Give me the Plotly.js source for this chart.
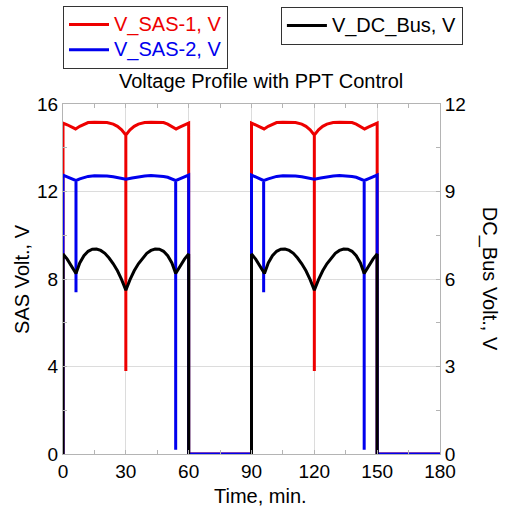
<!DOCTYPE html>
<html>
<head>
<meta charset="utf-8">
<script src="https://cdn.plot.ly/plotly-3.0.1.min.js"></script>
<style>html,body{margin:0;padding:0;background:#fff;}#chart{width:506px;height:518px;}</style>
</head>
<body>
<div id="chart"></div>
<script>
// Time axis (minutes) and series values
const t_sas1 = [0,0,2,4,6,8,10,12,15,18,21,24,26,28,30,30,30,32,34,36,39,42,45,48,50,52,54,56,58,60,60,
  90,90,92,94,96,98,100,102,105,108,111,114,116,118,120,120,120,122,124,126,129,132,135,138,140,142,144,146,148,150,150,180];
const v_sas1 = [0,15.13,15.05,14.95,14.86,14.98,15.08,15.15,15.17,15.17,15.15,15.08,14.98,14.82,14.58,3.8,14.58,14.82,14.98,15.08,15.15,15.17,15.17,15.15,15.08,14.98,14.86,14.95,15.05,15.13,0,
  0,15.13,15.05,14.95,14.86,14.98,15.08,15.15,15.17,15.17,15.15,15.08,14.98,14.82,14.58,3.8,14.58,14.82,14.98,15.08,15.15,15.17,15.17,15.15,15.08,14.98,14.86,14.95,15.05,15.13,0,0];

const t_sas2 = [0,0,2,4,6.2,6.2,6.2,8,10,12,15,18,21,24,27,30,33,36,39,42,45,48,50,52,53.8,53.8,53.8,56,58,60,60,
  90,90,92,94,95.8,95.8,95.8,98,100,102,105,108,111,114,117,120,123,126,129,132,135,138,140,142,143.8,143.8,143.8,146,148,150,150,180];
const v_sas2 = [0,12.75,12.67,12.59,12.5,7.4,12.5,12.58,12.65,12.69,12.72,12.73,12.71,12.67,12.62,12.56,12.62,12.67,12.71,12.73,12.72,12.69,12.65,12.58,12.5,0.2,12.5,12.59,12.67,12.75,0,
  0,12.75,12.67,12.59,12.5,7.4,12.5,12.58,12.65,12.69,12.72,12.73,12.71,12.67,12.62,12.56,12.62,12.67,12.71,12.73,12.72,12.69,12.65,12.58,12.5,0.2,12.5,12.59,12.67,12.75,0,0];

const t_bus = [0,0,2,4,6.2,8,10,12,14,16,18,20,22,24,26,28,30,32,34,36,38,40,42,44,46,48,50,52,53.8,56,58,60,60,null,
  90,90,92,94,96.2,98,100,102,104,106,108,110,112,114,116,118,120,122,124,126,128,130,132,134,136,138,140,142,143.8,146,148,150,150];
const v_bus = [0,6.86,6.68,6.46,6.19,6.55,6.8,6.95,7.02,7.03,6.98,6.88,6.72,6.52,6.28,5.98,5.62,5.98,6.28,6.52,6.72,6.88,6.98,7.03,7.02,6.95,6.8,6.55,6.19,6.46,6.68,6.86,0,null,
  0,6.86,6.68,6.46,6.19,6.55,6.8,6.95,7.02,7.03,6.98,6.88,6.72,6.52,6.28,5.98,5.62,5.98,6.28,6.52,6.72,6.88,6.98,7.03,7.02,6.95,6.8,6.55,6.19,6.46,6.68,6.86,0];

const x_ticks = [0,30,60,90,120,150,180];
const yl_ticks = [0,4,8,12,16];
const yr_ticks = [0,3,6,9,12];

const FONT = 'Liberation Sans, Arial, sans-serif';

const traces = [
  {x: t_sas1, y: v_sas1, type: 'scatter', mode: 'lines', name: '<span style="color:#ee0000;font-size:20px">V_SAS-1, V</span>',
   line: {color: '#ee0000', width: 3}, legend: 'legend', yaxis: 'y'},
  {x: t_sas2, y: v_sas2, type: 'scatter', mode: 'lines', name: '<span style="color:#0000ee;font-size:20px">V_SAS-2, V</span>',
   line: {color: '#0000ee', width: 3}, legend: 'legend', yaxis: 'y'},
  {x: t_bus, y: v_bus, type: 'scatter', mode: 'lines', name: '<span style="font-size:20px">V_DC_Bus, V</span>',
   line: {color: '#000000', width: 3}, legend: 'legend2', yaxis: 'y2', connectgaps: false}
];

const axisCommon = {
  showline: true, linecolor: '#b4b4b4', linewidth: 1,
  ticks: 'inside', ticklen: 4, tickcolor: '#b4b4b4',
  tickfont: {family: FONT, size: 19, color: '#000'},
  zeroline: false
};

const layout = {
  width: 506, height: 518,
  margin: {l: 63, r: 66, t: 104, b: 64, autoexpand: false},
  paper_bgcolor: '#fff', plot_bgcolor: '#fff',
  font: {family: FONT, color: '#000'},
  title: {text: 'Voltage Profile with PPT Control', font: {family: FONT, size: 20, color: '#000'},
          x: 0.516, xref: 'container', xanchor: 'center', y: 0.843, yref: 'container', yanchor: 'middle'},
  xaxis: Object.assign({}, axisCommon, {
    range: [0, 180], tickvals: x_ticks, mirror: 'ticks',
    showgrid: true, gridcolor: '#dcdcdc', gridwidth: 1,
    minor: {dtick: 15, ticks: 'inside', ticklen: 4, tickcolor: '#b4b4b4', showgrid: false}
  }),
  yaxis: Object.assign({}, axisCommon, {
    range: [0, 16], tickvals: yl_ticks,
    showgrid: true, gridcolor: '#dcdcdc', gridwidth: 1,
    minor: {dtick: 2, ticks: 'inside', ticklen: 4, tickcolor: '#b4b4b4', showgrid: false}
  }),
  yaxis2: Object.assign({}, axisCommon, {
    range: [0, 12], tickvals: yr_ticks, overlaying: 'y', side: 'right', showgrid: false,
    minor: {dtick: 1.5, ticks: 'inside', ticklen: 4, tickcolor: '#b4b4b4', showgrid: false}
  }),
  showlegend: true,
  legend: {x: 0, y: 1.28, xanchor: 'left', yanchor: 'top', bgcolor: '#fff', bordercolor: '#333', borderwidth: 1,
           font: {family: FONT, size: 17, color: '#000'}, itemwidth: 40, tracegroupgap: 0},
  legend2: {x: 0.578, y: 1.277, xanchor: 'left', yanchor: 'top', bgcolor: '#fff', bordercolor: '#333', borderwidth: 1,
           font: {family: FONT, size: 17, color: '#000'}, itemwidth: 40},
  annotations: [
    {text: 'Time, min.', xref: 'paper', yref: 'paper', x: 0.525, y: -0.12, xanchor: 'center', yanchor: 'middle',
     showarrow: false, font: {family: FONT, size: 20, color: '#000'}},
    {text: 'SAS Volt., V', xref: 'paper', yref: 'paper', x: -0.109, y: 0.5, xanchor: 'center', yanchor: 'middle',
     textangle: -90, showarrow: false, font: {family: FONT, size: 20, color: '#000'}},
    {text: 'DC_Bus Volt., V', xref: 'paper', yref: 'paper', x: 1.133, y: 0.5, xanchor: 'center', yanchor: 'middle',
     textangle: 90, showarrow: false, font: {family: FONT, size: 20, color: '#000'}}
  ]
};

Plotly.newPlot('chart', traces, layout, {displayModeBar: false, staticPlot: true});
</script>
</body>
</html>
